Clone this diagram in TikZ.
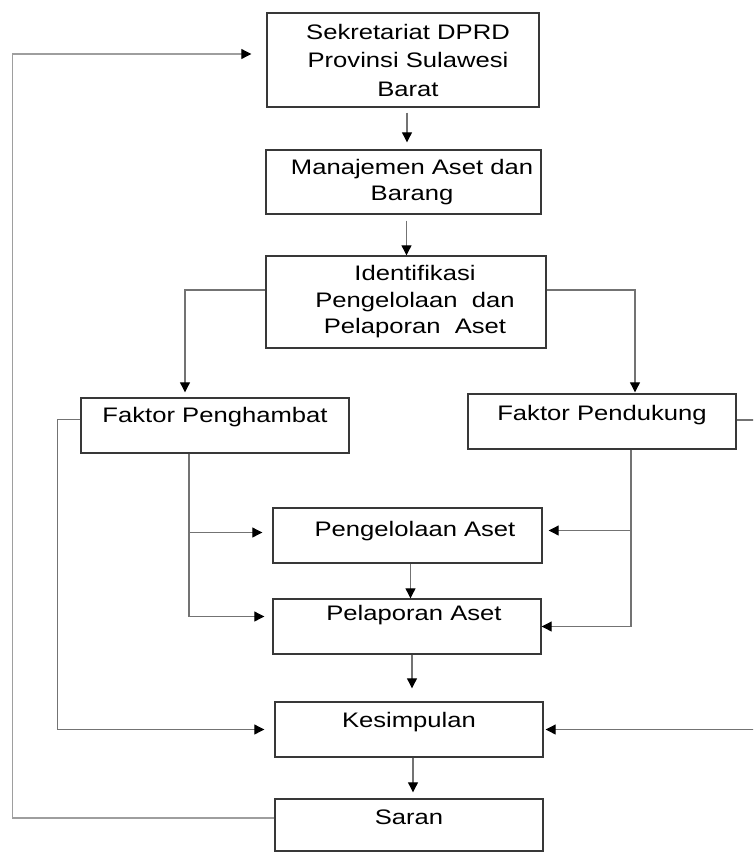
\documentclass[tikz,border=0pt]{standalone}
\usepackage{fontspec}
\setmainfont{Liberation Sans}[FakeStretch=1.22]
\usepackage{tikz}
\usetikzlibrary{arrows.meta}
\definecolor{boxline}{rgb}{0.22,0.22,0.22}
\definecolor{wiregray}{rgb}{0.45,0.45,0.45}
\definecolor{loopgray}{rgb}{0.62,0.62,0.62}
\tikzstyle{box}=[draw=boxline, line width=1.4pt, inner sep=0pt, minimum width=268pt, minimum height=55pt, align=center, font=\fontsize{21}{26.5}\selectfont]
\tikzstyle{onebox}=[box, text height=15pt]
\tikzstyle{wire}=[draw=wiregray, line width=1.1pt]
\tikzstyle{into}=[wire, -{Triangle[length=10pt,width=10pt,color=black]}]

\begin{document}
\begin{tikzpicture}[x=1pt, y=-1pt]
\useasboundingbox (0,0) rectangle (753,852);
\clip (0,0) rectangle (753,852);
% boxes
\node[box, minimum width=272pt, minimum height=94pt, font=\fontsize{21}{28.5}\selectfont] (sek) at (403,60) {\hspace*{10pt}Sekretariat DPRD\\\hspace*{10pt}Provinsi Sulawesi\\\hspace*{10pt}Barat};
\node[box, minimum width=275pt, minimum height=64pt] (man) at (403.5,182) {\hspace*{17pt}Manajemen Aset dan\\\hspace*{17pt}Barang};
\node[box, minimum width=280pt, minimum height=92pt] (ide) at (406,302) {\hspace*{18pt}Identifikasi\\\hspace*{18pt}Pengelolaan\ \ dan\\\hspace*{18pt}Pelaporan\ \ Aset};
\node[onebox, text depth=21pt] (pgh) at (215,425.5) {Faktor Penghambat};
\node[onebox, text depth=17pt] (pdk) at (602,421.5) {Faktor Pendukung};
\node[onebox, minimum width=269pt, text depth=13pt] (kel) at (407.5,535.5) {\hspace*{15pt}Pengelolaan Aset};
\node[onebox, text depth=27pt] (lap) at (407,626.5) {\hspace*{14pt}Pelaporan Aset};
\node[onebox, text depth=19pt] (kes) at (409,729.5) {Kesimpulan};
\node[onebox, minimum height=52pt, text depth=16pt] (sar) at (409,825) {Saran};
% main line
\draw[into, shorten <=5pt, shorten >=7pt] ([xshift=4pt]sek.south) -- ([xshift=4pt]sek.south |- man.north);
\draw[into, shorten <=6pt] ([xshift=3pt]man.south) -- ([xshift=3pt]man.south |- ide.north);
\draw[into] ([xshift=3pt]kel.south) -- ([xshift=3pt]kel.south |- lap.north);
\draw[into, shorten >=13pt] ([xshift=5pt]lap.south) -- ([xshift=5pt]lap.south |- kes.north);
\draw[into, shorten >=6pt] ([xshift=4pt]kes.south) -- ([xshift=4pt]kes.south |- sar.north);
% branches
\draw[into, shorten >=5pt] ([yshift=12pt]ide.west) -| ([xshift=-30pt]pgh.north);
\draw[into, shorten >=1pt] ([yshift=12pt]ide.east) -| ([xshift=33pt]pdk.north);
% faktor penghambat
\coordinate (lb) at ([xshift=-26pt]pgh.south);
\draw[into, shorten >=8pt] (lb) |- ([yshift=10pt]lap.west);
\draw[into, shorten >=10pt] ([yshift=3pt]kel.west -| lb) -- ([yshift=3pt]kel.west);
\draw[into, shorten >=10pt] ([yshift=6pt]pgh.west) -- ++(-23,0) |- (kes.west);
% faktor pendukung
\coordinate (rb) at ([xshift=29pt]pdk.south);
\draw[into] (rb) |- (lap.east);
\draw[into, shorten >=6pt] ([yshift=5pt]kel.east -| rb) -- ([yshift=5pt]kel.east);
\draw[into, shorten >=2pt] ([yshift=1.5pt]pdk.east) -- ++(24,0) |- (kes.east);
% back to the top
\draw[into, draw=loopgray, shorten >=15pt] ([yshift=7pt]sar.west) -- ++(-262,0) |- ([yshift=6pt]sek.west);
\end{tikzpicture}
\end{document}
